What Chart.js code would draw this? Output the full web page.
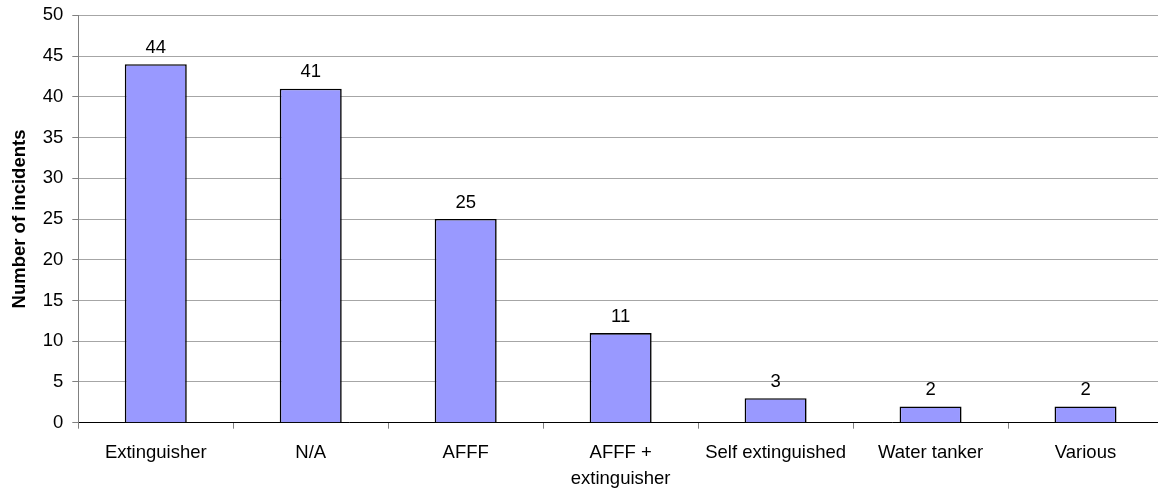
<!DOCTYPE html>
<html>
<head>
<meta charset="utf-8">
<script src="https://cdn.jsdelivr.net/npm/chart.js@4/dist/chart.umd.min.js"></script>
<style>
  html, body { margin: 0; padding: 0; background: #fff; overflow: hidden; }
  /* Plotfläche läuft im Original rechts etwas über den Rand hinaus */
  #wrap { width: 1158px; height: 488px; overflow: hidden; }
</style>
</head>
<body>
<div id="wrap"><canvas id="chart" width="1163" height="488"></canvas></div>
<script>
"use strict";

// Daten
const categories = ["Extinguisher", "N/A", "AFFF", ["AFFF +", "extinguisher"], "Self extinguished", "Water tanker", "Various"];
const incidents = [44, 41, 25, 11, 3, 2, 2];
const yTicks = [0, 5, 10, 15, 20, 25, 30, 35, 40, 45, 50];

const FONT = "'Liberation Sans', Arial, sans-serif";

// Werte über den Balken
const valueLabels = {
  id: "valueLabels",
  afterDatasetsDraw(chart) {
    const { ctx } = chart;
    const meta = chart.getDatasetMeta(0);
    ctx.save();
    ctx.font = `18.5px ${FONT}`;
    ctx.fillStyle = "#000";
    ctx.textAlign = "center";
    ctx.textBaseline = "alphabetic";
    meta.data.forEach((bar, i) => {
      ctx.fillText(String(incidents[i]), bar.x, bar.y - 11.5);
    });
    ctx.restore();
  },
};

new Chart(document.getElementById("chart").getContext("2d"), {
  type: "bar",
  data: {
    labels: categories,
    datasets: [{
      data: incidents,
      backgroundColor: "#9999FF",
      borderColor: "#000",
      borderWidth: 1.6,
      barPercentage: 0.4,
      categoryPercentage: 1,
    }],
  },
  options: {
    responsive: false,
    animation: false,
    layout: { padding: { top: 15.3, right: 0, left: 0, bottom: 0 } },
    plugins: {
      legend: { display: false },
      tooltip: { enabled: false },
    },
    scales: {
      x: {
        afterFit: (s) => { s.height = 65.3; s.paddingLeft = 0; s.paddingRight = 0; },
        grid: { drawOnChartArea: false, drawTicks: true, tickLength: 6, offset: true, color: "#808080" },
        border: { color: "#000", width: 1 },
        ticks: {
          color: "#000",
          font: { family: FONT, size: 18.5, lineHeight: 1.4 },
          padding: 11,
          maxRotation: 0,
          autoSkip: false,
        },
      },
      y: {
        min: 0,
        max: 50,
        afterFit: (s) => { s.width = 78.3; s.paddingTop = 0; s.paddingBottom = 0; },
        afterBuildTicks: (s) => { s.ticks = yTicks.map((v) => ({ value: v })); },
        grid: { color: "#a6a6a6", tickColor: "#808080", tickLength: 6, lineWidth: 1 },
        border: { color: "#808080", width: 1 },
        ticks: {
          color: "#000",
          font: { family: FONT, size: 18.5 },
          padding: 9,
        },
        title: {
          display: true,
          text: "Number of incidents",
          color: "#000",
          font: { family: FONT, size: 18.5, weight: "bold" },
          padding: { top: 9, bottom: 0 },
        },
      },
    },
  },
  plugins: [valueLabels],
});
</script>
</body>
</html>
